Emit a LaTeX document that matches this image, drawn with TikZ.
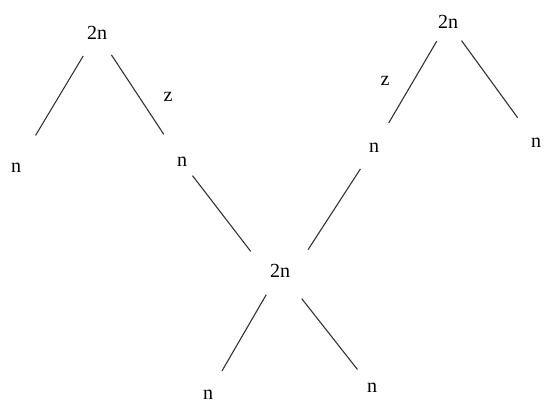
\documentclass[tikz,border=0pt]{standalone}
\usepackage{fontspec}
\setmainfont{Liberation Serif}
\begin{document}
\begin{tikzpicture}[x=1pt,y=-1pt,
  lbl/.style={circle,inner sep=0pt,minimum size=28pt,font=\fontsize{20}{23}\selectfont},
  branch/.style={line width=1.1pt,draw=black!80}]
 \clip (0,0) rectangle (544,404);
 % upper left tree
 \node[lbl] (t1) at (97,33) {2n};
 \node[lbl] (a) at (16,168) {n};
 \node[lbl] (b) at (182,162) {n};
 \node[lbl] (z1) at (168,97) {z};
 % upper right tree
 \node[lbl] (t2) at (448,22) {2n};
 \node[lbl] (c) at (374,148) {n};
 \node[lbl] (d) at (536,143) {n};
 \node[lbl] (z2) at (385,81) {z};
 % lower tree
 \node[lbl] (m) at (280,271) {2n};
 \node[lbl] (e) at (208,395) {n};
 \node[lbl] (f) at (372,388) {n};

 \draw[branch,shorten <=12.6pt,shorten >=23.8pt] (t1) -- (a);
 \draw[branch,shorten <=12pt,shorten >=19pt] (t1) -- (b);
 \draw[branch,shorten <=8pt,shorten >=14.8pt] (t2) -- (c);
 \draw[branch,shorten <=8.8pt,shorten >=17pt] (t2) -- (d);
 \draw[branch,shorten <=3pt,shorten >=24.8pt] (b) -- (m.west);
 \draw[branch,shorten <=10.8pt,shorten >=25.5pt] (c) -- (m.east);
 \draw[branch,shorten <=13.2pt,shorten >=13.6pt] (m) -- (e);
 \draw[branch,shorten <=21pt,shorten >=9.4pt] (m) -- (f);
\end{tikzpicture}
\end{document}
